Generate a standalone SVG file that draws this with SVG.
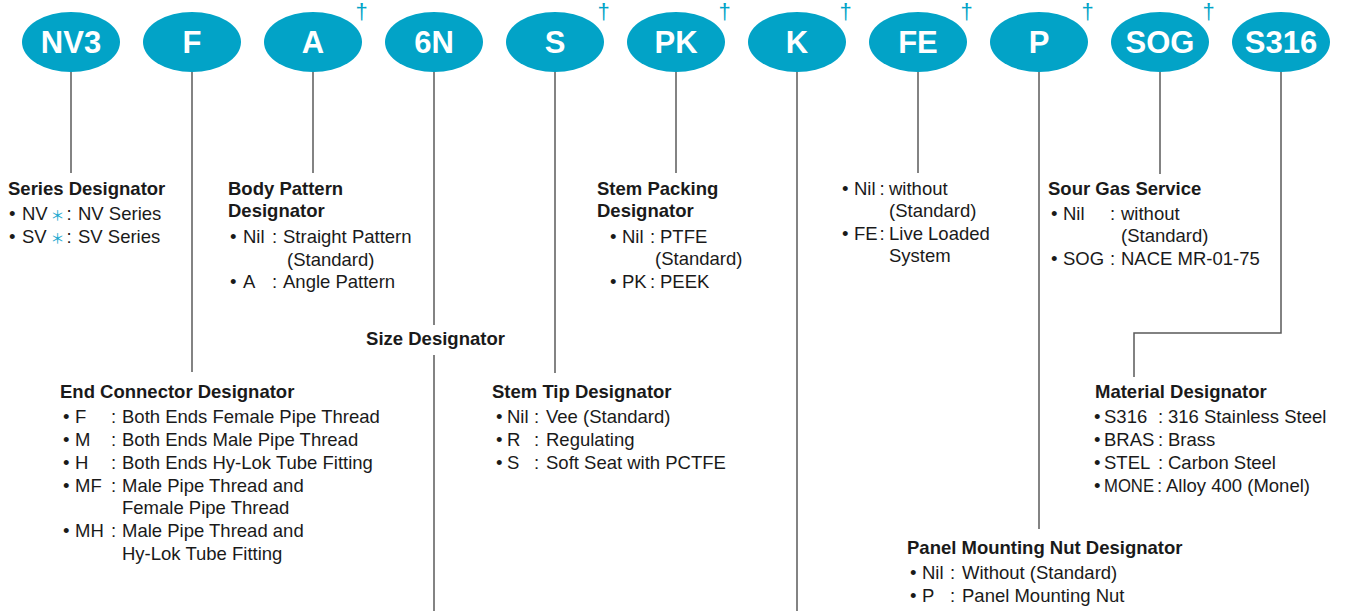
<svg xmlns="http://www.w3.org/2000/svg" width="1355" height="611" viewBox="0 0 1355 611">
<style>
.pill{fill:#02A3C7}
.code{font-family:"Liberation Sans",Arial,sans-serif;font-weight:bold;font-size:31px;fill:#fff;text-anchor:middle}
.dag{font-family:"Liberation Sans",Arial,sans-serif;font-size:22px;fill:#02A3C7;text-anchor:middle}
.h{font-family:"Liberation Sans",Arial,sans-serif;font-weight:bold;font-size:18.5px;fill:#1a1a1a}
.t{font-family:"Liberation Sans",Arial,sans-serif;font-size:18.5px;fill:#1a1a1a}
.ast{font-family:"Noto Sans CJK JP",sans-serif;font-size:14px;fill:#1aa7cf}
.ln{stroke:#5a5a5a;stroke-width:1.5;fill:none}
</style>
<rect width="1355" height="611" fill="#fff"/>
<g id="connectors">
<line class="ln" x1="71" y1="72" x2="71" y2="173"/>
<line class="ln" x1="192" y1="72" x2="192" y2="372"/>
<line class="ln" x1="313" y1="72" x2="313" y2="173"/>
<line class="ln" x1="434" y1="72" x2="434" y2="325"/>
<line class="ln" x1="434" y1="355" x2="434" y2="611"/>
<line class="ln" x1="555" y1="72" x2="555" y2="373"/>
<line class="ln" x1="676" y1="72" x2="676" y2="173"/>
<line class="ln" x1="797" y1="72" x2="797" y2="611"/>
<line class="ln" x1="918" y1="72" x2="918" y2="173"/>
<line class="ln" x1="1039" y1="72" x2="1039" y2="529"/>
<line class="ln" x1="1160" y1="72" x2="1160" y2="174"/>
<polyline class="ln" points="1281,72 1281,333 1134,333 1134,377"/>
</g>
<g id="node-NV3">
<ellipse class="pill" cx="71" cy="42" rx="49" ry="30"/>
<text class="code" x="71" y="53">NV3</text>
<text class="h" x="8" y="195">Series Designator</text>
<text class="t" y="220"><tspan x="9">•</tspan><tspan x="22">NV</tspan><tspan class="ast" x="50.5">＊</tspan><tspan x="66.5">:</tspan><tspan x="78">NV Series</tspan></text>
<text class="t" y="243"><tspan x="9">•</tspan><tspan x="22">SV</tspan><tspan class="ast" x="50.5">＊</tspan><tspan x="66.5">:</tspan><tspan x="78">SV Series</tspan></text>
</g>
<g id="node-F">
<ellipse class="pill" cx="192" cy="42" rx="49" ry="30"/>
<text class="code" x="192" y="53">F</text>
<text class="h" x="60" y="398">End Connector Designator</text>
<text class="t" y="423"><tspan x="63">•</tspan><tspan x="75">F</tspan><tspan x="111">:</tspan><tspan x="122">Both Ends Female Pipe Thread</tspan></text>
<text class="t" y="446"><tspan x="63">•</tspan><tspan x="75">M</tspan><tspan x="111">:</tspan><tspan x="122">Both Ends Male Pipe Thread</tspan></text>
<text class="t" y="469"><tspan x="63">•</tspan><tspan x="75">H</tspan><tspan x="111">:</tspan><tspan x="122">Both Ends Hy-Lok Tube Fitting</tspan></text>
<text class="t" y="492"><tspan x="63">•</tspan><tspan x="75">MF</tspan><tspan x="111">:</tspan><tspan x="122">Male Pipe Thread and</tspan></text>
<text class="t" x="122" y="514">Female Pipe Thread</text>
<text class="t" y="537"><tspan x="63">•</tspan><tspan x="75">MH</tspan><tspan x="111">:</tspan><tspan x="122">Male Pipe Thread and</tspan></text>
<text class="t" x="122" y="560">Hy-Lok Tube Fitting</text>
</g>
<g id="node-A">
<ellipse class="pill" cx="313" cy="42" rx="49" ry="30"/>
<text class="code" x="313" y="53">A</text>
<text class="dag" x="361.5" y="19">†</text>
<text class="h" x="228" y="195">Body Pattern</text>
<text class="h" x="228" y="217">Designator</text>
<text class="t" y="243"><tspan x="230">•</tspan><tspan x="243">Nil</tspan><tspan x="272">:</tspan><tspan x="283">Straight Pattern</tspan></text>
<text class="t" x="287" y="266">(Standard)</text>
<text class="t" y="288"><tspan x="230">•</tspan><tspan x="243">A</tspan><tspan x="272">:</tspan><tspan x="283">Angle Pattern</tspan></text>
</g>
<g id="node-6N">
<ellipse class="pill" cx="434" cy="42" rx="49" ry="30"/>
<text class="code" x="434" y="53">6N</text>
<text class="h" x="435.5" y="345" text-anchor="middle">Size Designator</text>
</g>
<g id="node-S">
<ellipse class="pill" cx="555" cy="42" rx="49" ry="30"/>
<text class="code" x="555" y="53">S</text>
<text class="dag" x="603.5" y="19">†</text>
<text class="h" x="492" y="398">Stem Tip Designator</text>
<text class="t" y="423"><tspan x="496">•</tspan><tspan x="507">Nil</tspan><tspan x="534">:</tspan><tspan x="546">Vee (Standard)</tspan></text>
<text class="t" y="446"><tspan x="496">•</tspan><tspan x="507">R</tspan><tspan x="534">:</tspan><tspan x="546">Regulating</tspan></text>
<text class="t" y="469"><tspan x="496">•</tspan><tspan x="507">S</tspan><tspan x="534">:</tspan><tspan x="546">Soft Seat with PCTFE</tspan></text>
</g>
<g id="node-PK">
<ellipse class="pill" cx="676" cy="42" rx="49" ry="30"/>
<text class="code" x="676" y="53">PK</text>
<text class="dag" x="724.5" y="19">†</text>
<text class="h" x="597" y="195">Stem Packing</text>
<text class="h" x="597" y="217">Designator</text>
<text class="t" y="243"><tspan x="610">•</tspan><tspan x="622">Nil</tspan><tspan x="650">:</tspan><tspan x="660">PTFE</tspan></text>
<text class="t" x="655" y="265">(Standard)</text>
<text class="t" y="288"><tspan x="610">•</tspan><tspan x="622">PK</tspan><tspan x="650">:</tspan><tspan x="660">PEEK</tspan></text>
</g>
<g id="node-K">
<ellipse class="pill" cx="797" cy="42" rx="49" ry="30"/>
<text class="code" x="797" y="53">K</text>
<text class="dag" x="845.5" y="19">†</text>
</g>
<g id="node-FE">
<ellipse class="pill" cx="918" cy="42" rx="49" ry="30"/>
<text class="code" x="918" y="53">FE</text>
<text class="dag" x="966.5" y="19">†</text>
<text class="t" y="195"><tspan x="842">•</tspan><tspan x="854">Nil</tspan><tspan x="879.5">:</tspan><tspan x="889">without</tspan></text>
<text class="t" x="889" y="217">(Standard)</text>
<text class="t" y="240"><tspan x="842">•</tspan><tspan x="854">FE</tspan><tspan x="879.5">:</tspan><tspan x="889">Live Loaded</tspan></text>
<text class="t" x="889" y="262">System</text>
</g>
<g id="node-P">
<ellipse class="pill" cx="1039" cy="42" rx="49" ry="30"/>
<text class="code" x="1039" y="53">P</text>
<text class="dag" x="1087.5" y="19">†</text>
<text class="h" x="907" y="554">Panel Mounting Nut Designator</text>
<text class="t" y="579"><tspan x="910">•</tspan><tspan x="922">Nil</tspan><tspan x="950">:</tspan><tspan x="962">Without (Standard)</tspan></text>
<text class="t" y="602"><tspan x="910">•</tspan><tspan x="922">P</tspan><tspan x="950">:</tspan><tspan x="962">Panel Mounting Nut</tspan></text>
</g>
<g id="node-SOG">
<ellipse class="pill" cx="1160" cy="42" rx="49" ry="30"/>
<text class="code" x="1160" y="53">SOG</text>
<text class="dag" x="1208.5" y="19">†</text>
<text class="h" x="1048" y="195">Sour Gas Service</text>
<text class="t" y="220"><tspan x="1051">•</tspan><tspan x="1063">Nil</tspan><tspan x="1110">:</tspan><tspan x="1121">without</tspan></text>
<text class="t" x="1121" y="242">(Standard)</text>
<text class="t" y="265"><tspan x="1051">•</tspan><tspan x="1063">SOG</tspan><tspan x="1110">:</tspan><tspan x="1121">NACE MR-01-75</tspan></text>
</g>
<g id="node-S316">
<ellipse class="pill" cx="1281" cy="42" rx="49" ry="30"/>
<text class="code" x="1281" y="53">S316</text>
<text class="h" x="1095" y="398">Material Designator</text>
<text class="t" y="423"><tspan x="1094">•</tspan><tspan x="1104">S316</tspan><tspan x="1158">:</tspan><tspan x="1168">316 Stainless Steel</tspan></text>
<text class="t" y="446"><tspan x="1094">•</tspan><tspan x="1104">BRAS</tspan><tspan x="1158">:</tspan><tspan x="1168">Brass</tspan></text>
<text class="t" y="469"><tspan x="1094">•</tspan><tspan x="1104">STEL</tspan><tspan x="1158">:</tspan><tspan x="1168">Carbon Steel</tspan></text>
<text class="t" y="492"><tspan x="1094">•</tspan><tspan x="1104" textLength="50" lengthAdjust="spacingAndGlyphs">MONE</tspan><tspan x="1157">:</tspan><tspan x="1166">Alloy 400 (Monel)</tspan></text>
</g>
</svg>
